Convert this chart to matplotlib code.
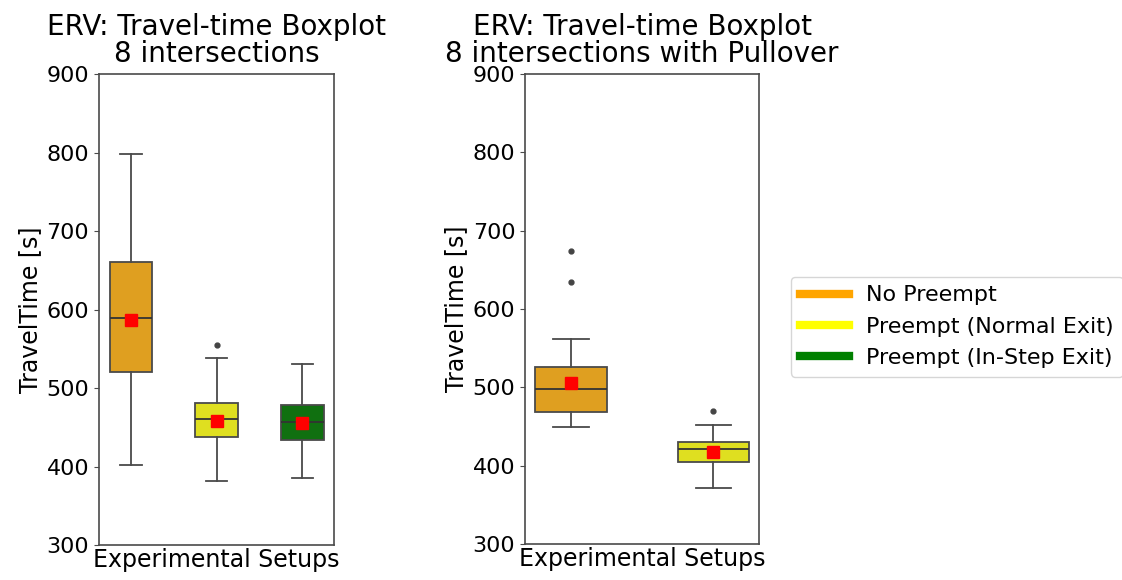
import matplotlib
matplotlib.use("Agg")
import matplotlib.pyplot as plt
from matplotlib.lines import Line2D

# ── Data ─────────────────────────────────────────────────────────────────────
SETUPS = ["No Preempt", "Preempt (Normal Exit)", "Preempt (In-Step Exit)"]
LEGEND_COLORS = ["orange", "yellow", "green"]
BOX_COLORS = ["#df9f20", "#dfdf20", "#107010"]

# 8 intersections
left_whislo = [402, 382, 386]
left_q1     = [520, 438, 434]
left_med    = [589, 461, 457]
left_q3     = [660, 481, 479]
left_whishi = [798, 538, 530]
left_mean   = [587, 458, 455]
left_fliers = [[], [555], []]

# 8 intersections with Pullover
right_whislo = [450, 371]
right_q1     = [468, 405]
right_med    = [498, 421]
right_q3     = [526, 430]
right_whishi = [562, 452]
right_mean   = [506, 418]
right_fliers = [[674, 634], [470]]

YTICKS = [300, 400, 500, 600, 700, 800, 900]

EDGE = "#4a4a4a"
FS = 16


def stats(whislo, q1, med, q3, whishi, mean, fliers):
    return [
        dict(whislo=a, q1=b, med=c, q3=d, whishi=e, mean=f, fliers=g)
        for a, b, c, d, e, f, g in zip(whislo, q1, med, q3, whishi, mean, fliers)
    ]


def draw(ax, st, colors, xlim, title):
    n = len(st)
    bp = ax.bxp(
        st, positions=list(range(n)), widths=0.5, patch_artist=True,
        showmeans=True, showfliers=True,
        boxprops=dict(edgecolor=EDGE, linewidth=1.3),
        whiskerprops=dict(color=EDGE, linewidth=1.3),
        capprops=dict(color=EDGE, linewidth=1.3),
        medianprops=dict(color="#333333", linewidth=1.3),
        meanprops=dict(marker="s", markerfacecolor="red", markeredgecolor="red",
                       markersize=8),
        flierprops=dict(marker="o", markerfacecolor="#444444",
                        markeredgecolor="#444444", markersize=3.5),
    )
    for patch, c in zip(bp["boxes"], colors):
        patch.set_facecolor(c)
    ax.set_xlim(*xlim)
    ax.set_ylim(300, 900)
    ax.set_yticks(YTICKS)
    ax.set_xticks([])
    ax.tick_params(axis="y", labelsize=FS, color=EDGE)
    ax.set_xlabel("Experimental Setups", fontsize=17, labelpad=2)
    ax.set_ylabel("TravelTime [s]", fontsize=17, labelpad=3)
    ax.set_title(title, fontsize=20, linespacing=0.95, pad=9)
    for sp in ax.spines.values():
        sp.set_color(EDGE)
        sp.set_linewidth(1.2)


fig = plt.figure(figsize=(11.22, 5.8), dpi=100)
ax1 = fig.add_axes([0.0882, 0.0603, 0.2095, 0.8121])
ax2 = fig.add_axes([0.4679, 0.0620, 0.2086, 0.8104])

draw(ax1, stats(left_whislo, left_q1, left_med, left_q3, left_whishi,
                left_mean, left_fliers),
     BOX_COLORS, (-0.373, 2.37),
     "ERV: Travel-time Boxplot\n8 intersections")
draw(ax2, stats(right_whislo, right_q1, right_med, right_q3, right_whishi,
                right_mean, right_fliers),
     BOX_COLORS[:2], (-0.323, 1.32),
     "ERV: Travel-time Boxplot\n8 intersections with Pullover")

handles = [Line2D([0], [0], color=c, lw=6) for c in LEGEND_COLORS]
fig.legend(handles, SETUPS, loc="center left",
           bbox_to_anchor=(0.695, 0.437), fontsize=16,
           frameon=True, edgecolor="#cccccc", handlelength=2.2)

fig.savefig("out.png", dpi=100)
